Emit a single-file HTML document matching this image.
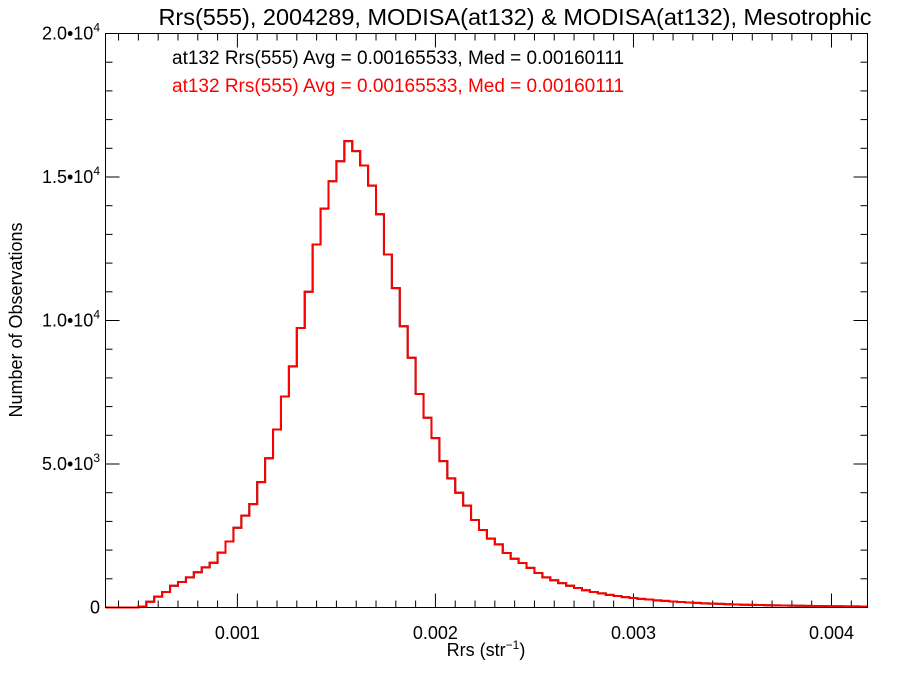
<!DOCTYPE html>
<html><head><meta charset="utf-8"><style>
html,body{margin:0;padding:0;background:#fff}
svg{display:block;font-family:"Liberation Sans",sans-serif}
</style></head><body>
<svg id="chart" width="900" height="675" viewBox="0 0 900 675" xmlns="http://www.w3.org/2000/svg">
<text x="515" y="25" font-size="23.5" text-anchor="middle">Rrs(555), 2004289, MODISA(at132) &amp; MODISA(at132), Mesotrophic</text>
<text x="172" y="64" font-size="19" fill="#000">at132 Rrs(555) Avg = 0.00165533, Med = 0.00160111</text>
<text x="172" y="92" font-size="19" fill="#ff0000">at132 Rrs(555) Avg = 0.00165533, Med = 0.00160111</text>
<text x="486" y="656" font-size="18" text-anchor="middle">Rrs (str<tspan dy="-7" font-size="12">−1</tspan><tspan dy="7">)</tspan></text>
<text transform="translate(22,320) rotate(-90)" font-size="18" text-anchor="middle">Number of Observations</text>
<g id="axes"></g>
<g id="series"></g>
<rect x="105.5" y="33.5" width="762" height="574" fill="none" stroke="#000" stroke-width="1"/>
</svg>
<script>
const binStart = 0.00034;
const binWidth = 0.00004;
const counts = [0,0,0,0,30,200,380,540,760,890,1050,1230,1400,1560,1910,2300,2780,3200,3600,4370,5200,6200,7350,8400,9740,11000,12650,13900,14850,15550,16250,15900,15400,14700,13700,12300,11130,9800,8700,7440,6610,5900,5100,4500,4000,3550,3050,2700,2400,2200,1900,1700,1550,1380,1200,1050,950,850,760,680,600,540,490,440,400,360,330,300,280,250,230,210,190,175,160,145,135,125,115,105,95,90,85,80,75,70,65,60,55,50,48,45,42,40,38,36];
const xTicks = [0.001,0.002,0.003,0.004];
const xTickLabels = ["0.001","0.002","0.003","0.004"];
const yTicks = [0,5000,10000,15000,20000];
const yTickLabels = ["0","5.0•10^3","1.0•10^4","1.5•10^4","2.0•10^4"];

const X0=105.5,X1=867.5,Y0=607.5,Y1=33.5;
const xMin=0.000334,xMax=0.0041818,yMin=0,yMax=20000;
const xs=v=>X0+(v-xMin)/(xMax-xMin)*(X1-X0);
const ys=v=>Y0-(v-yMin)/(yMax-yMin)*(Y0-Y1);
const NS="http://www.w3.org/2000/svg";
const axes=document.getElementById('axes');
function mk(tag,attrs,parent){const e=document.createElementNS(NS,tag);for(const k in attrs)e.setAttribute(k,attrs[k]);parent.appendChild(e);return e;}

for(let i=4;i<=41;i++){const v=i*0.0001;const x=xs(v);if(x<X0||x>X1)continue;
 const major=i%10===0;const L=major?14:7;
 const t1=mk('line',{x1:x,x2:x,y1:Y0,y2:Y0-L,stroke:'#000'},axes);
 
 
 const t2=mk('line',{x1:x,x2:x,y1:Y1,y2:Y1+L,stroke:'#000'},axes);
 
 }
xTicks.forEach((v,i)=>{const t=mk('text',{x:xs(v),y:639,'font-size':18,'text-anchor':'middle'},axes);t.textContent=xTickLabels[i];
 
 });
for(let v=0;v<=20000;v+=1000){const y=ys(v);const major=v%5000===0;const L=major?14:7;
 const t1=mk('line',{x1:X0,x2:X0+L,y1:y,y2:y,stroke:'#000'},axes);
 
 
 const t2=mk('line',{x1:X1,x2:X1-L,y1:y,y2:y,stroke:'#000'},axes);
 
 }
yTicks.forEach((v,i)=>{const t=mk('text',{x:100,y:ys(v)+6,'font-size':18,'text-anchor':'end'},axes);
 
 
 const s=yTickLabels[i];
 if(s.includes('^')){const [b,e]=s.split('^');t.textContent=b;const sp=mk('tspan',{dy:-8,'font-size':12},t);sp.textContent=e;
 }else t.textContent=s;});

function stepPath(){let d='';counts.forEach((c,i)=>{let xa=xs(binStart+i*binWidth),xb=xs(binStart+(i+1)*binWidth);
 xa=Math.max(X0,Math.min(X1,xa));xb=Math.max(X0,Math.min(X1,xb));const y=ys(c);
 d+=(i===0?'M'+X0+','+y+' L':' L')+xa+','+y+' L'+xb+','+y;});return d;}
const ser=document.getElementById('series');
const pb=mk('path',{d:stepPath(),fill:'none',stroke:'#000','stroke-width':2},ser);


const pr=mk('path',{d:stepPath(),fill:'none',stroke:'#ff0000','stroke-width':2},ser);


</script>
</body></html>
